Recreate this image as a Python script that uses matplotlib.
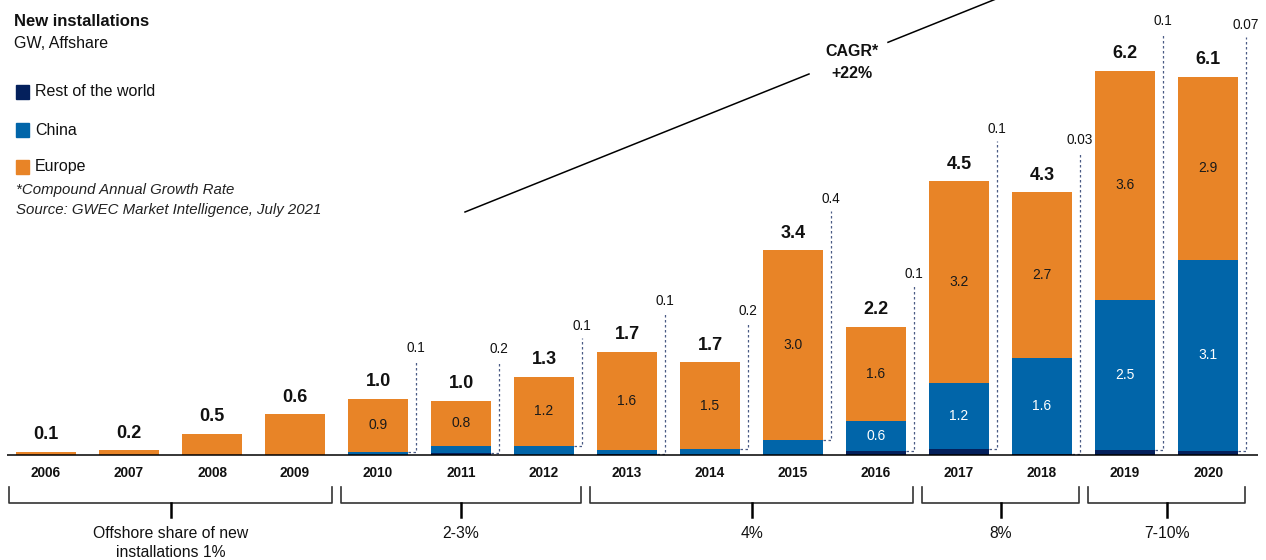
import matplotlib
matplotlib.use("Agg")
from matplotlib import pyplot as plt
from matplotlib.patches import Rectangle

plt.rcParams['font.family'] = ['Liberation Sans', 'DejaVu Sans']

# data (GW)
years = list(range(2006, 2021))
europe = [0.05, 0.08, 0.35, 0.67, 0.87, 0.74, 1.13, 1.61, 1.42, 3.11, 1.54, 3.31, 2.72, 3.76, 3.00]
china = [0, 0, 0, 0, 0.05, 0.12, 0.15, 0.06, 0.10, 0.25, 0.49, 1.08, 1.57, 2.46, 3.13]
rest = [0, 0, 0, 0, 0, 0.03, 0, 0.02, 0, 0, 0.07, 0.10, 0.02, 0.08, 0.07]

total_labels = ['0.1', '0.2', '0.5', '0.6', '1.0', '1.0', '1.3', '1.7', '1.7',
                '3.4', '2.2', '4.5', '4.3', '6.2', '6.1']
europe_labels = ['', '', '', '', '0.9', '0.8', '1.2', '1.6', '1.5', '3.0',
                 '1.6', '3.2', '2.7', '3.6', '2.9']
china_labels = [''] * 10 + ['0.6', '1.2', '1.6', '2.5', '3.1']
small_labels = [''] * 4 + ['0.1', '0.2', '0.1', '0.1', '0.2', '0.4',
                           '0.1', '0.1', '0.03', '0.1', '0.07']
# which segment the small value points to
small_anchor = [''] * 4 + ['china', 'rest', 'china', 'rest', 'china', 'china',
                           'rest', 'rest', 'rest', 'rest', 'rest']
# height of the small value labels (pixels from top)
small_label_py = [0] * 4 + [348, 349, 326, 301, 311, 199, 274, 129, 140, 21, 25]

groups = [('Offshore share of new\ninstallations 1%', 0, 3),
          ('2-3%', 4, 6), ('4%', 7, 10), ('8%', 11, 12), ('7-10%', 13, 14)]

c_europe = '#E88427'
c_china = '#0165A9'
c_rest = '#04205C'
c_lead = '#4A5B85'

W, H = 1266, 560
X0, PITCH = 46, 83      # centre of first bar / bar spacing (px)
BASE, SCALE = 455, 61   # baseline (px from top) / px per GW


def dx(px):
    return (px - X0) / PITCH


def dy(py):
    return (BASE - py) / SCALE


fig = plt.figure(figsize=(W / 100, H / 100), dpi=100)
ax = fig.add_axes([0, 0, 1, 1])
ax.set_xlim(dx(0), dx(W))
ax.set_ylim(dy(H), dy(0))
ax.axis('off')

x = list(range(len(years)))
bw = 0.723
bottom_china = rest
bottom_europe = [r + c for r, c in zip(rest, china)]
ax.bar(x, rest, bw, color=c_rest, zorder=2)
ax.bar(x, china, bw, bottom=bottom_china, color=c_china, zorder=2)
ax.bar(x, europe, bw, bottom=bottom_europe, color=c_europe, zorder=2)

ax.plot([dx(7), dx(1258)], [0, 0], color='black', lw=1.1, zorder=3,
        solid_capstyle='butt')

off = 17 / SCALE
for i in x:
    top = rest[i] + china[i] + europe[i]
    ax.text(i, top + off, total_labels[i], ha='center', va='center',
            fontsize=13, fontweight='bold', color='#111111')
    if europe_labels[i]:
        ax.text(i, bottom_europe[i] + europe[i] / 2, europe_labels[i],
                ha='center', va='center', fontsize=10, color='#1a1a1a')
    if china_labels[i]:
        ax.text(i, rest[i] + china[i] / 2, china_labels[i],
                ha='center', va='center', fontsize=10, color='white')
    if small_labels[i]:
        if small_anchor[i] == 'china':
            a = rest[i] + china[i]
        else:
            a = rest[i]
        xr = i + bw / 2
        xv = i + 0.458
        ly = dy(small_label_py[i])
        ax.plot([xr, xv, xv], [a, a, ly - 12 / SCALE], color=c_lead, lw=0.9,
                ls=(0, (2, 2)), zorder=1)
        ax.text(xv, ly, small_labels[i], ha='center', va='center',
                fontsize=9.8, color='#111111')
    ax.text(i, dy(473), str(years[i]), ha='center', va='center',
            fontsize=9.8, fontweight='bold', color='#111111')

# brackets below the years
for label, s, e in groups:
    x1, x2 = s - 0.45, e + 0.45
    ax.plot([x1, x1, x2, x2], [dy(487), dy(503), dy(503), dy(487)],
            color='#333333', lw=1.2)
    xm = (x1 + x2) / 2
    ax.plot([xm, xm], [dy(503), dy(517)], color='black', lw=1.8)
    if '\n' in label:
        ax.text(xm, dy(543), label, ha='center', va='center', fontsize=11.3,
                color='#111111', linespacing=1.4)
    else:
        ax.text(xm, dy(533), label, ha='center', va='center', fontsize=11.3,
                color='#111111')

# CAGR trend line, broken around its label
slope = (212 - 74) / (809 - 465)


def line_y(px):
    return 212 - slope * (px - 465)


for a, b in [(465, 809), (888, 998)]:
    ax.plot([dx(a), dx(b)], [dy(line_y(a)), dy(line_y(b))], color='black', lw=1.1)
ax.text(dx(852), dy(52), 'CAGR*', ha='center', va='center', fontsize=11.5,
        fontweight='bold', color='#111111')
ax.text(dx(852), dy(73), '+22%', ha='center', va='center', fontsize=11.5,
        fontweight='bold', color='#111111')

# title and legend
fig.text(14 / W, 1 - 22 / H, 'New installations', ha='left', va='center',
         fontsize=12, fontweight='bold', color='#111111')
fig.text(14 / W, 1 - 43 / H, 'GW, Affshare', ha='left', va='center',
         fontsize=11.5, color='#111111')
for name, col, py in [('Rest of the world', c_rest, 92), ('China', c_china, 130),
                      ('Europe', c_europe, 167)]:
    fig.patches.append(Rectangle((16 / W, 1 - (py + 6.5) / H), 13 / W, 13 / H,
                                 transform=fig.transFigure, figure=fig,
                                 color=col))
    fig.text(35 / W, 1 - py / H, name, ha='left', va='center', fontsize=11.5,
             color='#111111')
fig.text(16 / W, 1 - 190 / H, '*Compound Annual Growth Rate', ha='left',
         va='center', fontsize=10.8, style='italic', color='#222222')
fig.text(16 / W, 1 - 210 / H, 'Source: GWEC Market Intelligence, July 2021',
         ha='left', va='center', fontsize=10.8, style='italic', color='#222222')

fig.savefig('out.png', dpi=100)
